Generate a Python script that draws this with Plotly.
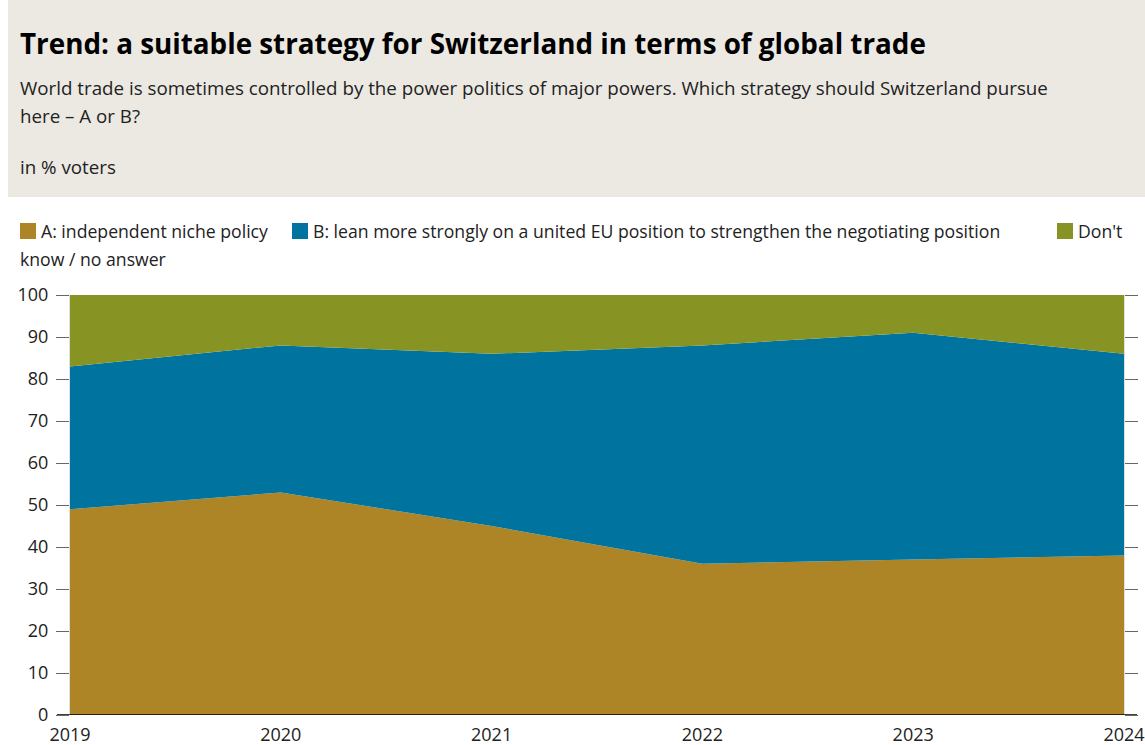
import plotly.graph_objects as go

# Survey results, % of voters
years = [2019, 2020, 2021, 2022, 2023, 2024]
niche_policy = [49, 53, 45, 36, 37, 38]
eu_position = [34, 35, 41, 52, 54, 48]
dont_know = [17, 12, 14, 12, 9, 14]

series_names = [
    "A: independent niche policy",
    "B: lean more strongly on a united EU position to strengthen the negotiating position",
    "Don't know / no answer",
]
y_ticks = [0, 10, 20, 30, 40, 50, 60, 70, 80, 90, 100]

C_A = "#AD8527"
C_B = "#00749E"
C_DK = "#879322"
FONT = "Open Sans"

W, H = 1145, 745
ML, MR, MT, MB = 70, 21, 295, 30
PW, PH = W - ML - MR, H - MT - MB


def px_x(x):
    return (x - ML) / PW


def px_y(y):
    return (H - MB - y) / PH


fig = go.Figure()
for vals, name, col in [(niche_policy, series_names[0], C_A),
                        (eu_position, series_names[1], C_B),
                        (dont_know, series_names[2], C_DK)]:
    fig.add_trace(go.Scatter(
        x=years, y=vals, name=name, mode="lines", stackgroup="one",
        line=dict(width=0, color=col), fillcolor=col, showlegend=False,
        hovertemplate="%{x}: %{y}%<extra></extra>",
    ))

shapes = [
    # header panel
    dict(type="rect", xref="paper", yref="paper", x0=px_x(8), x1=px_x(1145),
         y0=px_y(197), y1=px_y(0), fillcolor="#ECE9E3", line=dict(width=0), layer="below"),
    # baseline
    dict(type="line", xref="paper", yref="y", x0=px_x(57), x1=px_x(1137), y0=0, y1=0,
         line=dict(color="#000000", width=1.5), layer="above"),
]

annotations = []


def text(x, y, s, size=17.6, bold=False, color="#222222"):
    annotations.append(dict(
        xref="paper", yref="paper", x=px_x(x), y=px_y(y), text=f"<b>{s}</b>" if bold else s,
        showarrow=False, xanchor="left", yanchor="middle", align="left",
        font=dict(family=FONT, size=size, color=color),
        xshift=-2,
    ))


text(20, 43, "Trend: a suitable strategy for Switzerland in terms of global trade", size=27.8, bold=True, color="#000000")
text(20, 87, "World trade is sometimes controlled by the power politics of major powers. Which strategy should Switzerland pursue", size=18.75)
text(20, 115, "here – A or B?", size=18.75)
text(20, 166, "in % voters", size=18.75)

# legend
legend_items = [(20, C_A, series_names[0]),
                (292, C_B, series_names[1]),
                (1057, C_DK, "Don't")]
for x, col, label in legend_items:
    shapes.append(dict(type="rect", xref="paper", yref="paper", x0=px_x(x), x1=px_x(x + 16),
                       y0=px_y(239), y1=px_y(223), fillcolor=col, line=dict(width=0)))
    text(x + 21, 231, label, size=17.65)
text(20, 259, "know / no answer", size=17.65)

fig.update_layout(
    width=W, height=H, autosize=False,
    margin=dict(l=ML, r=MR, t=MT, b=MB),
    paper_bgcolor="white", plot_bgcolor="white",
    font=dict(family=FONT, size=17.6, color="#222222"),
    shapes=shapes, annotations=annotations,
    showlegend=False,
    xaxis=dict(range=[2019, 2024], tickvals=years, ticktext=[str(y) for y in years],
               showgrid=False, zeroline=False, showline=False, ticks="",
               ticklabelstandoff=7, automargin=False,
               tickfont=dict(size=18, color="#222222")),
    yaxis=dict(range=[0, 100], tickvals=y_ticks, showgrid=False, zeroline=False,
               showline=True, linecolor="#E0E0E0", linewidth=1, mirror="ticks",
               ticks="outside", ticklen=13, tickcolor="#666666", tickwidth=1,
               ticklabelstandoff=4, automargin=False,
               tickfont=dict(size=18, color="#222222")),
)

fig.write_html("out.html")
